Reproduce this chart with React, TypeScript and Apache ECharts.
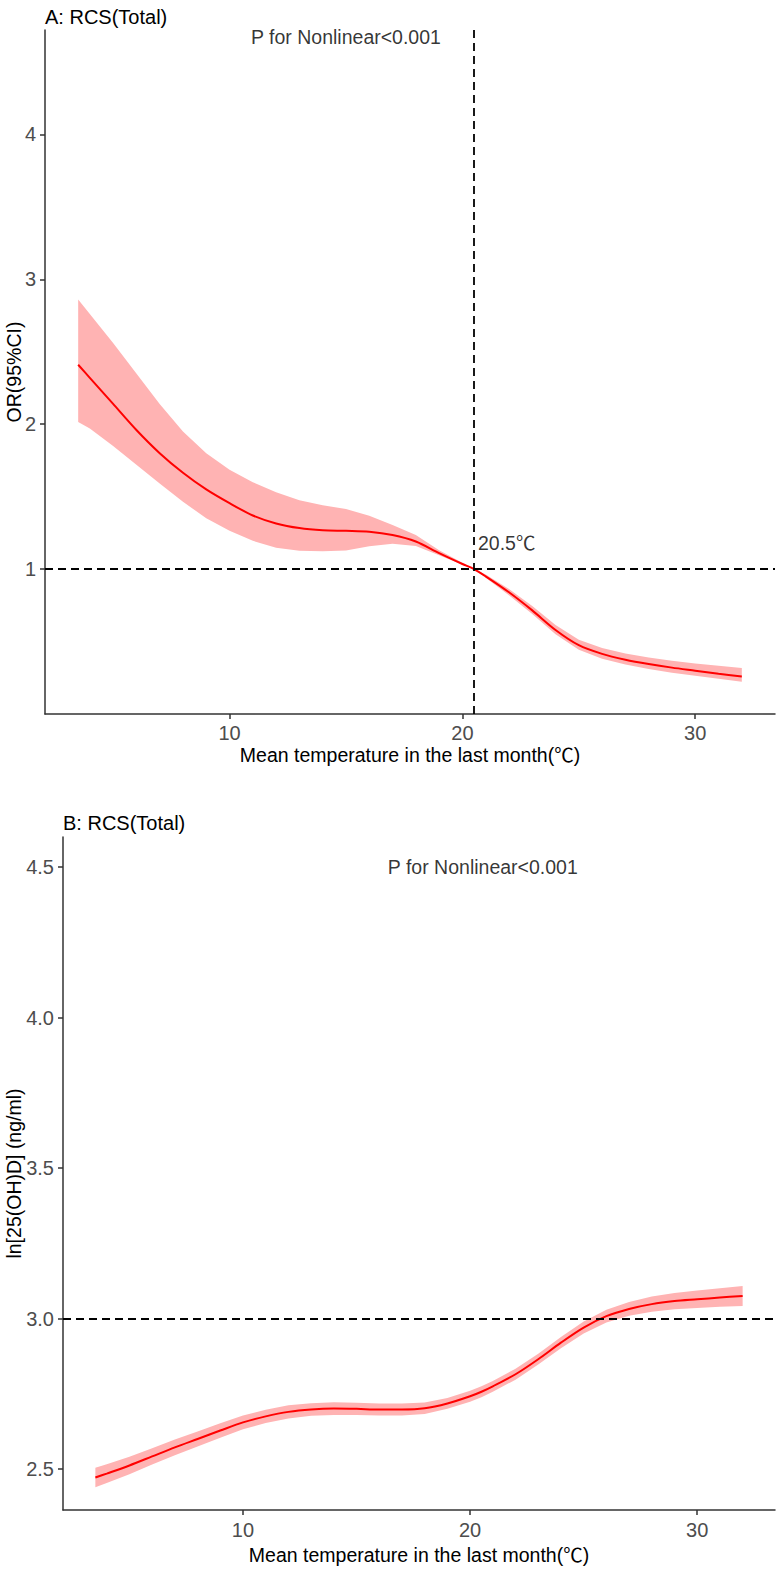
import React, { useEffect, useRef } from "react";
import * as echarts from "echarts";

// ---- data ----
const temps = [3.5, 4, 5, 6, 7, 8, 9, 10, 11, 12, 13, 14, 15, 16, 17, 18, 19, 20, 20.5, 21, 22, 23, 24, 25, 26, 27, 28, 29, 30, 31, 32];

const orFit = [2.41, 2.32, 2.14, 1.96, 1.8, 1.665, 1.55, 1.455, 1.37, 1.315, 1.283, 1.268, 1.264, 1.258, 1.235, 1.19, 1.11, 1.035, 1.0, 0.95, 0.84, 0.715, 0.58, 0.475, 0.415, 0.375, 0.345, 0.32, 0.299, 0.278, 0.258];
const orUpper = [2.86, 2.76, 2.56, 2.35, 2.14, 1.95, 1.8, 1.685, 1.6, 1.53, 1.475, 1.44, 1.414, 1.368, 1.305, 1.235, 1.13, 1.043, 1.0, 0.962, 0.862, 0.745, 0.615, 0.513, 0.455, 0.417, 0.39, 0.368, 0.349, 0.333, 0.318];
const orLower = [2.015, 1.97, 1.85, 1.72, 1.59, 1.465, 1.35, 1.265, 1.195, 1.148, 1.127, 1.123, 1.129, 1.158, 1.175, 1.16, 1.095, 1.03, 1.0, 0.94, 0.82, 0.69, 0.55, 0.443, 0.382, 0.341, 0.31, 0.285, 0.264, 0.243, 0.223];

const vdFit = [2.472, 2.485, 2.512, 2.542, 2.572, 2.6, 2.628, 2.655, 2.675, 2.69, 2.698, 2.701, 2.7, 2.698, 2.698, 2.702, 2.718, 2.742, 2.757, 2.775, 2.815, 2.865, 2.92, 2.97, 3.008, 3.032, 3.048, 3.058, 3.064, 3.07, 3.075];
const vdUpper = [2.504, 2.516, 2.541, 2.569, 2.598, 2.625, 2.652, 2.678, 2.697, 2.712, 2.719, 2.722, 2.72, 2.718, 2.718, 2.721, 2.736, 2.76, 2.775, 2.793, 2.833, 2.883, 2.939, 2.99, 3.029, 3.055, 3.073, 3.085, 3.093, 3.101, 3.108];
const vdLower = [2.44, 2.454, 2.483, 2.515, 2.546, 2.575, 2.604, 2.632, 2.653, 2.668, 2.677, 2.68, 2.68, 2.678, 2.678, 2.683, 2.7, 2.724, 2.739, 2.757, 2.797, 2.847, 2.901, 2.95, 2.987, 3.009, 3.023, 3.031, 3.035, 3.039, 3.042];

const xTicks = [10, 20, 30];
const orTicks = [1, 2, 3, 4];
const vdTicks = [2.5, 3.0, 3.5, 4.0, 4.5];

const cutoff = 20.5;
const orRef = 1;
const vdRef = 3.0;
const pText = "P for Nonlinear<0.001";

const FONT = "'Liberation Sans', Arial, 'Noto Sans CJK SC', sans-serif";
const SMOOTH = 0.3;

function ribbon(idx: number, lower: number[], upper: number[]) {
  return {
    type: "custom",
    xAxisIndex: idx,
    yAxisIndex: idx,
    silent: true,
    z: 1,
    data: temps.map((t, i) => [t, lower[i], upper[i]]),
    encode: { x: 0, y: [1, 2] },
    renderItem: (params: any, api: any) => {
      if (params.dataIndex !== 0) return null;
      const pts: number[][] = [];
      for (let i = 0; i < temps.length; i++) pts.push(api.coord([temps[i], upper[i]]));
      for (let i = temps.length - 1; i >= 0; i--) pts.push(api.coord([temps[i], lower[i]]));
      return { type: "polygon", shape: { points: pts }, style: { fill: "#FFB3B3" } };
    },
  };
}

function xAxisCfg(gridIndex: number, margin: number, nameGap: number) {
  return {
    type: "value",
    gridIndex,
    min: 2.075,
    max: 33.425,
    name: "Mean temperature in the last month(℃)",
    nameLocation: "middle",
    nameGap,
    nameMoveOverlap: false,
    nameTextStyle: { fontFamily: FONT, fontSize: 19.5, color: "#000" },
    axisLine: { show: true, onZero: false, lineStyle: { color: "#333", width: 1.5 } },
    axisTick: { show: true, length: 5, lineStyle: { color: "#333", width: 1.5 }, customValues: xTicks },
    axisLabel: { customValues: xTicks, fontFamily: FONT, fontSize: 20, color: "#4D4D4D", margin },
    splitLine: { show: false },
  };
}

export default function App() {
  const ref = useRef<HTMLDivElement>(null);
  useEffect(() => {
    if (!ref.current) return;
    const chart = echarts.init(ref.current, undefined, { renderer: "svg" });
    const dashed = { color: "#000", width: 1.8, type: [8, 5] as any };
    chart.setOption({
      animation: false,
      backgroundColor: "#fff",
      title: [
        { text: "A: RCS(Total)", left: 40, top: 2, textStyle: { fontFamily: FONT, fontSize: 20, fontWeight: "normal", color: "#000" } },
        { text: "B: RCS(Total)", left: 58, top: 808, textStyle: { fontFamily: FONT, fontSize: 20, fontWeight: "normal", color: "#000" } },
      ],
      grid: [
        { left: 45, top: 30, width: 730, height: 684, containLabel: false, outerBoundsMode: "none" },
        { left: 63, top: 837, width: 712, height: 673, containLabel: false, outerBoundsMode: "none" },
      ],
      xAxis: [xAxisCfg(0, 9, 31), xAxisCfg(1, 10, 35)],
      yAxis: [
        {
          type: "value",
          gridIndex: 0,
          min: 0,
          max: 4.72,
          name: "OR(95%CI)",
          nameLocation: "middle",
          nameGap: 21,
          nameMoveOverlap: false,
          nameTextStyle: { fontFamily: FONT, fontSize: 19.5, color: "#000" },
          axisLine: { show: true, onZero: false, lineStyle: { color: "#333", width: 1.5 } },
          axisTick: { show: true, length: 5, lineStyle: { color: "#333", width: 1.5 }, customValues: orTicks },
          axisLabel: { customValues: orTicks, fontFamily: FONT, fontSize: 20, color: "#4D4D4D", margin: 9 },
          splitLine: { show: false },
        },
        {
          type: "value",
          gridIndex: 1,
          min: 2.364,
          max: 4.6,
          name: "ln[25(OH)D] (ng/ml)",
          nameLocation: "middle",
          nameGap: 39,
          nameMoveOverlap: false,
          nameTextStyle: { fontFamily: FONT, fontSize: 19.5, color: "#000" },
          axisLine: { show: true, onZero: false, lineStyle: { color: "#333", width: 1.5 } },
          axisTick: { show: true, length: 5, lineStyle: { color: "#333", width: 1.5 }, customValues: vdTicks },
          axisLabel: {
            customValues: vdTicks,
            formatter: (v: number) => v.toFixed(1),
            fontFamily: FONT,
            fontSize: 20,
            color: "#4D4D4D",
            margin: 9,
          },
          splitLine: { show: false },
        },
      ],
      series: [
        ribbon(0, orLower, orUpper),
        {
          type: "line",
          xAxisIndex: 0,
          yAxisIndex: 0,
          data: temps.map((t, i) => [t, orFit[i]]),
          smooth: SMOOTH,
          showSymbol: false,
          lineStyle: { color: "#FF0000", width: 2 },
          z: 3,
          markLine: {
            silent: true,
            symbol: "none",
            label: { show: false },
            lineStyle: dashed,
            data: [{ xAxis: cutoff }, { yAxis: orRef }],
          },
        },
        {
          type: "scatter",
          xAxisIndex: 0,
          yAxisIndex: 0,
          symbolSize: 1,
          itemStyle: { color: "rgba(0,0,0,0)" },
          z: 5,
          data: [
            { value: [15, 4.67], label: { formatter: pText, align: "center" } },
            { value: [20.67, 1.18], label: { formatter: cutoff + "℃", align: "left" } },
          ],
          label: { show: true, position: "inside", verticalAlign: "middle", fontFamily: FONT, fontSize: 19.5, color: "#000" },
        },
        ribbon(1, vdLower, vdUpper),
        {
          type: "line",
          xAxisIndex: 1,
          yAxisIndex: 1,
          data: temps.map((t, i) => [t, vdFit[i]]),
          smooth: SMOOTH,
          showSymbol: false,
          lineStyle: { color: "#FF0000", width: 2 },
          z: 3,
          markLine: {
            silent: true,
            symbol: "none",
            label: { show: false },
            lineStyle: dashed,
            data: [{ yAxis: vdRef }],
          },
        },
        {
          type: "scatter",
          xAxisIndex: 1,
          yAxisIndex: 1,
          symbolSize: 1,
          itemStyle: { color: "rgba(0,0,0,0)" },
          z: 5,
          data: [{ value: [20.56, 4.5], label: { formatter: pText, align: "center" } }],
          label: { show: true, position: "inside", verticalAlign: "middle", fontFamily: FONT, fontSize: 19.5, color: "#000" },
        },
      ],
    });
    return () => chart.dispose();
  }, []);
  return <div ref={ref} style={{ position: "absolute", left: 0, top: 0, width: 776, height: 1577 }} />;
}
